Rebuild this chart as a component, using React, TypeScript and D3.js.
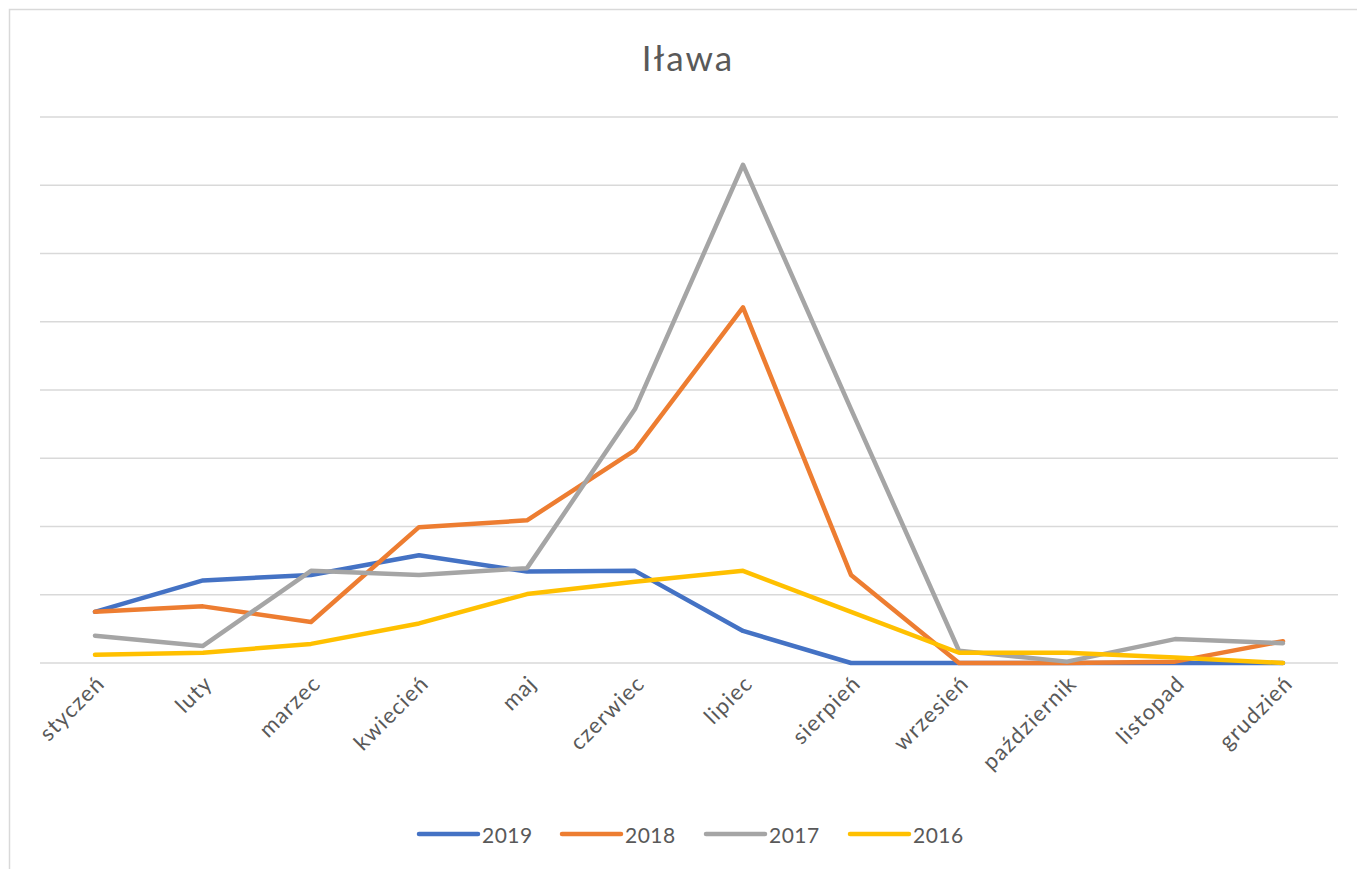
import React, { useEffect } from "react";
import * as d3 from "d3";

const width = 1357;
const height = 869;
const plot = { left: 40, right: 1338, top: 117, bottom: 663, firstX: 95, lastX: 1283 };
const font = "Lato, 'Open Sans', sans-serif";
const textColor = "#595959";

const title = "Iława";
const months = [
  "styczeń", "luty", "marzec", "kwiecień", "maj", "czerwiec",
  "lipiec", "sierpień", "wrzesień", "październik", "listopad", "grudzień",
];
const gridTicks = [0, 1, 2, 3, 4, 5, 6, 7, 8];

const series2019 = [0.75, 1.21, 1.29, 1.58, 1.34, 1.35, 0.47, 0, 0, 0, 0, 0];
const series2018 = [0.75, 0.83, 0.6, 1.99, 2.09, 3.12, 5.21, 1.29, 0, 0, 0.02, 0.32];
const series2017 = [0.4, 0.25, 1.35, 1.29, 1.39, 3.72, 7.3, 3.72, 0.18, 0.02, 0.35, 0.29];
const series2016 = [0.12, 0.15, 0.28, 0.58, 1.01, 1.19, 1.35, 0.75, 0.15, 0.15, 0.08, 0];

const seriesNames = ["2019", "2018", "2017", "2016"];
const seriesColors = ["#4472C4", "#ED7D31", "#A5A5A5", "#FFC000"];
const seriesData = [series2019, series2018, series2017, series2016];

const x = d3.scalePoint<string>().domain(months).range([plot.firstX, plot.lastX]);
const y = d3.scaleLinear().domain([0, 8]).range([plot.bottom, plot.top]);

const line = d3
  .line<number>()
  .x((_, i) => x(months[i]) as number)
  .y((d) => y(d));

const legendX = [419, 562, 706, 850]; // start of each legend swatch
const legendY = 834;

export default function App() {
  useEffect(() => {
    document.body.style.margin = "0";
  }, []);

  return (
    <svg width={width} height={height} style={{ display: "block", background: "#fff" }}>
      <rect x={9.5} y={9.5} width={width + 20} height={height + 20} fill="#fff" stroke="#d9d9d9" strokeWidth={1.5} />
      <text x={688} y={71} textAnchor="middle" fontFamily={font} fontSize={35} letterSpacing={2} fill={textColor}>
        {title}
      </text>

      {gridTicks.map((t) => (
        <line key={t} x1={plot.left} x2={plot.right} y1={y(t)} y2={y(t)} stroke="#d9d9d9" strokeWidth={1.5} />
      ))}

      {seriesData.map((s, i) => (
        <path
          key={seriesNames[i]}
          d={line(s) ?? ""}
          fill="none"
          stroke={seriesColors[i]}
          strokeWidth={4.5}
          strokeLinejoin="round"
          strokeLinecap="round"
        />
      ))}

      {months.map((m) => {
        const px = (x(m) as number) + 7;
        const py = plot.bottom + 18;
        return (
          <text
            key={m}
            transform={`translate(${px},${py}) rotate(-45)`}
            textAnchor="end"
            dominantBaseline="middle"
            fontFamily={font}
            fontSize={22}
            letterSpacing={1.2}
            fill={textColor}
          >
            {m}
          </text>
        );
      })}

      {seriesNames.map((n, i) => (
        <g key={n} transform={`translate(${legendX[i]},${legendY})`}>
          <line x1={0} x2={59} y1={0} y2={0} stroke={seriesColors[i]} strokeWidth={4.5} strokeLinecap="round" />
          <text x={63} y={0} dominantBaseline="central" fontFamily={font} fontSize={21} letterSpacing={0.5} fill={textColor}>
            {n}
          </text>
        </g>
      ))}
    </svg>
  );
}
